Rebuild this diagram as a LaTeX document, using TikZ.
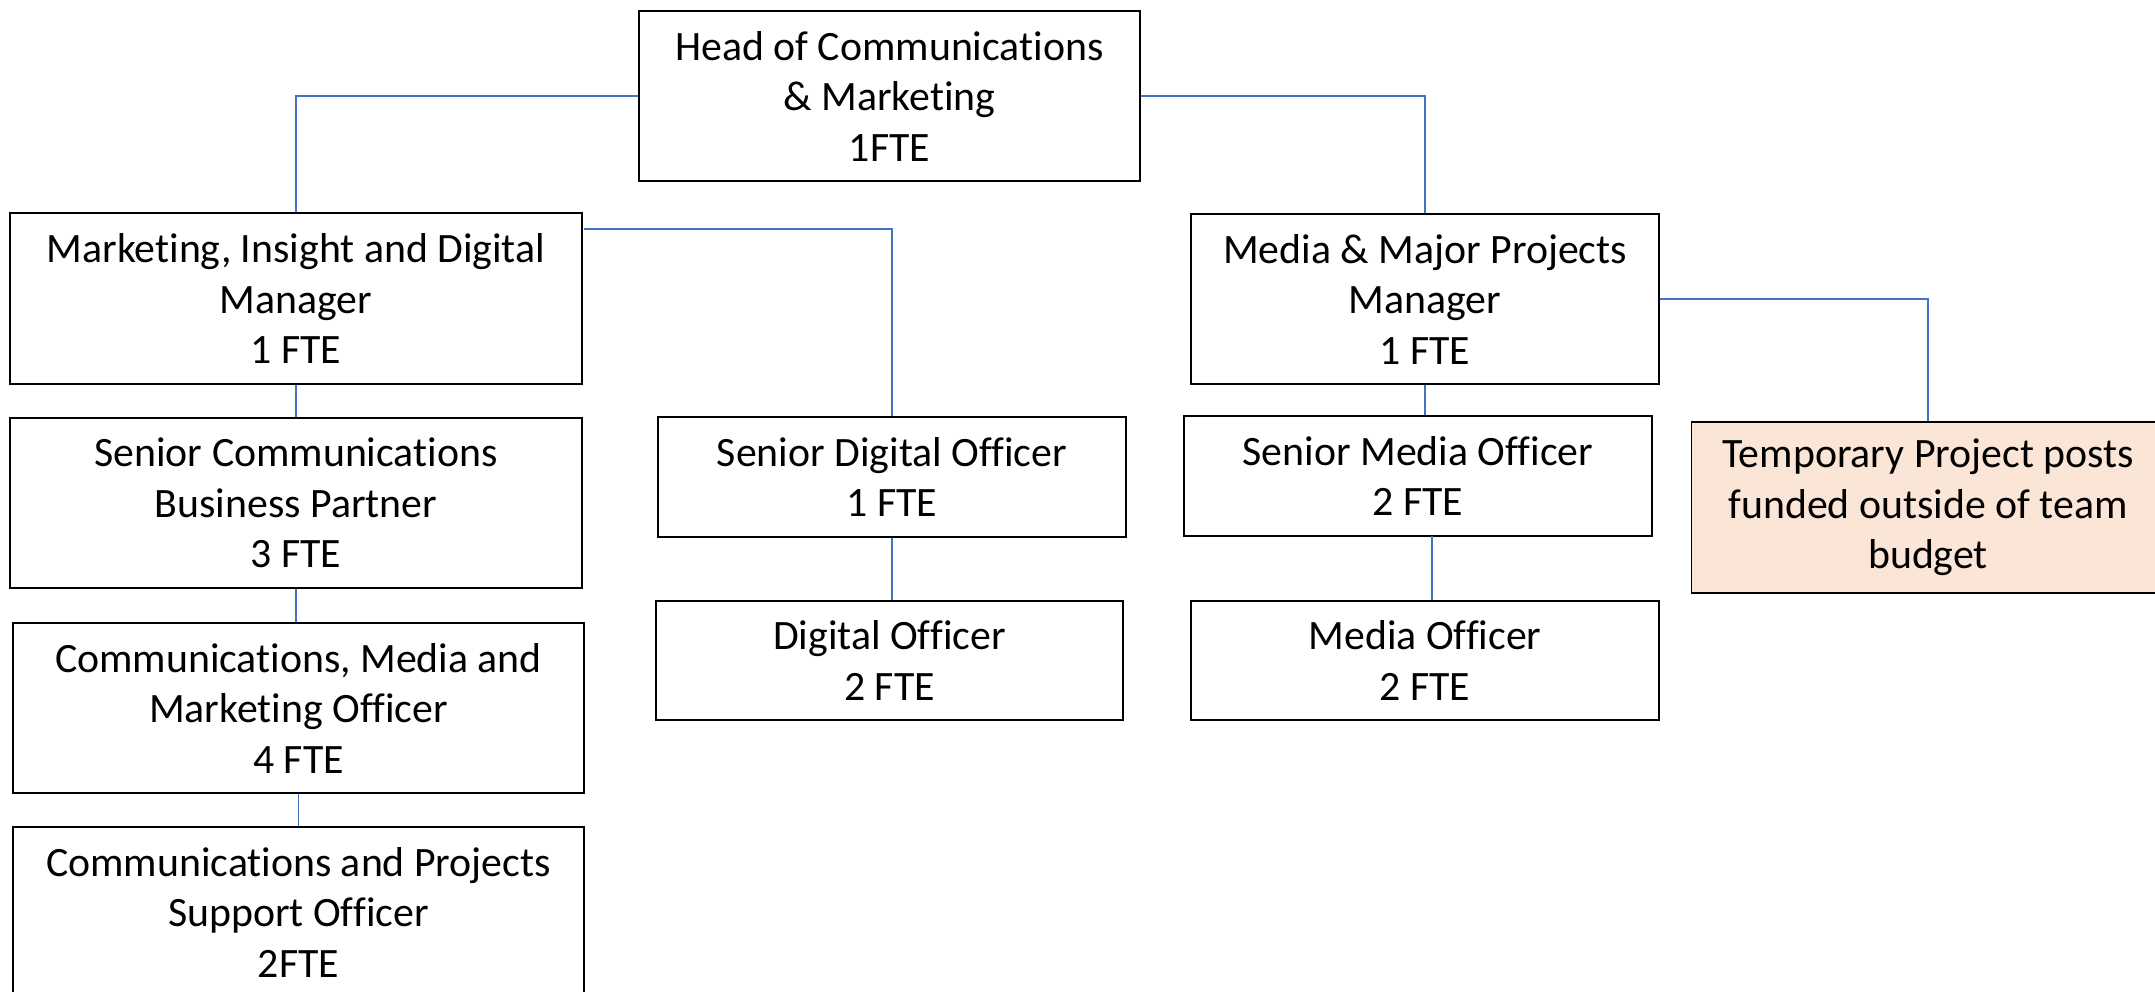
\documentclass[tikz,border=0pt]{standalone}
\usepackage{fontspec}
\setmainfont{Carlito}[Ligatures={NoCommon}]
\definecolor{linkblue}{HTML}{4472C4}
\definecolor{tempfill}{HTML}{FBE5D6}
\begin{document}
\begin{tikzpicture}[x=1pt,y=-1pt,
  box/.style={draw=black, line width=1.8pt, fill=white, align=center, inner sep=0pt,
    font=\fontsize{41.8}{50.5}\selectfont},
  conn/.style={draw=linkblue, line width=1.3pt}]
\path[use as bounding box, fill=white] (0,0) rectangle (2155,992);
\clip (0,0) rectangle (2155,992);

\node[box, minimum width=501, minimum height=170] (head) at (889.5,96) {Head of Communications\\ \& Marketing\\ 1FTE};
\node[box, minimum width=572, minimum height=171] (mkt) at (296,298.5) {Marketing, Insight and Digital\\ Manager\\ 1 FTE};
\node[box, minimum width=467.5, minimum height=170] (media) at (1425,299) {Media \& Major Projects\\ Manager\\ 1 FTE};
\node[box, minimum width=572, minimum height=170] (sc) at (296,503) {Senior Communications\\ Business Partner\\ 3 FTE};
\node[box, minimum width=468, minimum height=120] (sdig) at (892,477) {Senior Digital Officer\\ 1 FTE};
\node[box, minimum width=468, minimum height=120] (smed) at (1418,476) {Senior Media Officer\\ 2 FTE};
\node[box, fill=tempfill, minimum width=473, minimum height=171] (temp) at (1928,507.5) {Temporary Project posts\\ funded outside of team\\ budget};
\node[box, minimum width=571, minimum height=170] (cmm) at (298.5,708) {Communications, Media and\\ Marketing Officer\\ 4 FTE};
\node[box, minimum width=467, minimum height=119] (dig) at (889.5,660.5) {Digital Officer\\ 2 FTE};
\node[box, minimum width=467.5, minimum height=119] (mo) at (1425,660.5) {Media Officer\\ 2 FTE};
\node[box, minimum width=571, minimum height=170] (csp) at (298.5,912) {Communications and Projects\\ Support Officer\\ 2FTE};

\coordinate (mkout) at (584,229);
\coordinate (smout) at (1432,536);

\draw[conn] (head.west) -| (mkt.north);
\draw[conn] (head.east) -| (media.north);
\draw[conn] (mkout) -| (sdig.north);
\draw[conn] (media.east) -| (temp.north);
\draw[conn] (mkt.south) -- (sc.north);
\draw[conn] (sc.south) -- (sc.south |- cmm.north);
\draw[conn] (cmm.south) -- (csp.north);
\draw[conn] (sdig.south) -- (sdig.south |- dig.north);
\draw[conn] (media.south) -- (media.south |- smed.north);
\draw[conn] (smout) -- (smout |- mo.north);
\end{tikzpicture}
\end{document}
